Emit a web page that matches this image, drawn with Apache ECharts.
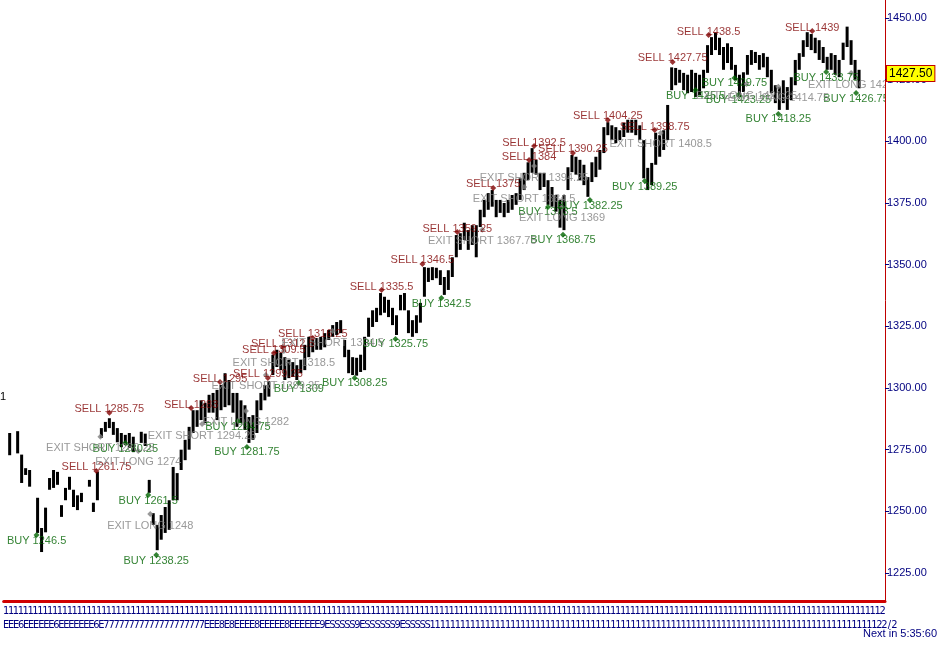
<!DOCTYPE html>
<html><head><meta charset="utf-8">
<script src="https://cdn.jsdelivr.net/npm/echarts@6/dist/echarts.min.js"></script>
<style>html,body{margin:0;padding:0;background:#fff}#c{width:945px;height:661px}</style>
</head><body><div id="c"></div>
<script>
// ---- price bars (one per slot), high / low ----
const highs = [
null,1281.75,null,1282.5,1273,1267.5,1266.75,null,1255.5,1243.25,
1251.5,1263.5,1266.75,1266,1252.5,1259.5,1264,1258.75,1256.5,1257.5,
null,1262.75,1253.5,1266,1283.75,1286.25,1287.75,1286.25,1283.75,1281.75,
1281,1281.75,1280.25,null,1282.25,1281.5,1262.75,1249.25,1244.5,1248.5,
1251.75,1254.5,1268,1265.5,1275,1279,1284.25,1291,1291,1295,
1294,1297.25,1298,1299.25,1301.25,1306,1303.25,1298,1298,1295,
1293,1288.25,1289,1295,1298,1301.25,1302.75,1313.5,1315.5,1314.25,
1312.5,1311.5,1310.5,1309.25,1311.5,1317.5,1320.75,1319.5,1320.25,1320.75,
1322.25,1323.5,1325.5,1326.75,1327.5,1319.5,1315.5,1312.5,1312.25,1313.5,
1320.75,1328.5,1331.5,1332.5,1338.5,1337,1335.75,1332.5,1329.5,1337.75,
1338.5,1331.5,1327.5,1329.5,1334.5,1349,1348.75,1349,1348.75,1347.75,
1345,1347.75,1353,1362,1362.75,1367,1364,1366,1366,1372.25,
1376.25,1379,1380.25,1376.25,1376.25,1375,1376.25,1378.25,1379,1385,
1387.25,1391.5,1397.25,1392.5,1387.25,1387.25,1384.25,1381.5,1378.25,1376.25,
1378.25,1389.5,1394.5,1393.75,1392.5,1390.5,1385.5,1391.5,1393.75,1396.5,
1405.75,1407.75,1406.5,1405.75,1404.5,1407.5,1408.75,1408.75,1408.75,1406.5,
1400.5,1389.25,1391.25,1403.5,1402.5,1404.5,1414.75,1430,1429.75,1429,
1427.75,1427,1429,1427.75,1427,1429,1439,1442.25,1444,1442,
1438.25,1439.75,1438.25,1431,1427,1428,1435,1437,1436.25,1435,
1435.75,1434.25,1429,1422.75,1422,1424.75,1422,1426,1433,1435.75,
1441,1444.25,1443.5,1442,1441,1438.25,1434.25,1435.75,1435,1433,
1440,1446.5,1441,1433,1429,null,null,null,null,null,null];
const lows = [
null,1272.75,null,1273.5,1261.5,1264.75,1260,null,1241.25,1233.5,
1241.5,1258.75,1259.5,1260.75,1247.75,1254.5,1258.75,1251.75,1250.5,1253.75,
null,1260,1249.75,1254.5,1279.75,1282.25,1283.75,1281,1278,1276,
1277,1275.75,1274,null,1277.75,1276.5,1257.5,1244.5,1234.25,1238.5,
1241.25,1242.5,1254.5,1254.5,1266.75,1270.75,1275,1281.75,1284.25,1287,
1285.75,1290,1290,1287,1291,1292.25,1293,1290,1284.25,1285.75,
1283,1277.75,1279,1281.75,1291,1295,1296.5,1305.25,1308.5,1307.25,
1303.25,1304,1304.5,1303.25,1306,1307.25,1312.5,1314.5,1315.5,1315.5,
1316.5,1319.5,1320.75,1321.5,1322.25,1312.5,1306,1305.25,1305,1306.5,
1307.25,1320.75,1324.75,1326.75,1329.5,1330.5,1328.75,1325.5,1321.5,1331.5,
1331.5,1322.25,1320.75,1322.25,1326.5,1337,1343,1343.75,1344.5,1341.75,
1337.75,1339.75,1345,1353,1356,1360,1356,1358,1353,1365.25,
1369.25,1372.25,1373.5,1369.25,1371,1369.25,1371,1372.25,1374.25,1376.25,
1380.25,1384.25,1387.25,1386.5,1380.25,1381.5,1374.25,1373.5,1371.5,1365,
1364,1380.25,1387.5,1386.5,1384.25,1382.25,1377.5,1383.5,1385.5,1388.5,
1395.25,1402.5,1400.5,1399.25,1400.5,1401.75,1403.5,1403.5,1402.5,1400.5,
1385,1380.25,1382.25,1390.5,1393.75,1396.5,1400.5,1420.75,1422.75,1423.75,
1420.75,1419.5,1420,1418,1418.75,1421.5,1427.75,1435,1437,1435,
1429,1431.75,1429,1424.75,1418,1420,1427,1431,1431.75,1429,
1430,1426,1419.5,1415.5,1412.75,1415.5,1412.75,1416.75,1422.75,1429,
1434.25,1438.25,1437,1435.75,1433,1431.75,1429,1429,1427,1426,
1433,1438.25,1431,1425,1421.5,null,null,null,null,null,null];
const lastPrice = 1427.5;

// ---- trade annotations: bar position, marker price, text ----
const sellX = [26,22.75,46.5,53.75,65.75,67.25,69.5,77,94.25,104.5,113.25,122.25,131.25,132.5,142.25,151,162.75,167.25,176.25,202.25];
const sellY = [1290,1266.4,1291.9,1302.4,1304.1,1314.2,1316.6,1320.3,1339.7,1350.3,1363.2,1381.1,1392.4,1398.1,1395.3,1408.7,1404.6,1432.2,1443.1,1444.7];
const sellText = ['SELL 1285.75','SELL 1261.75','SELL 1283','SELL 1295','SELL 1299.25','SELL 1309.5','SELL 1312.5','SELL 1316.25','SELL 1335.5','SELL 1346.5','SELL 1359.25','SELL 1375','SELL 1384','SELL 1392.5','SELL 1390.25','SELL 1404.25','SELL 1398.75','SELL 1427.75','SELL 1438.5','SELL 1439'];

const buyX = [7.75,30,35.75,37.75,58.25,60.5,73.5,87.5,97.75,109.25,136,146.5,139.75,160.25,173,182.75,183.75,193.75,205.75,213.25];
const buyY = [1240.4,1277.7,1256.6,1232.3,1286.6,1276.1,1302,1304.1,1319.9,1336.5,1373.4,1376.2,1362.1,1383.9,1420.8,1425.7,1418.8,1411.1,1428.1,1419.6];
const buyText = ['BUY 1246.5','BUY 1280.25','BUY 1261.5','BUY 1238.25','BUY 1294.75','BUY 1281.75','BUY 1309','BUY 1308.25','BUY 1325.75','BUY 1342.5','BUY 1373.5','BUY 1382.25','BUY 1368.75','BUY 1389.25','BUY 1425.5','BUY 1429.75','BUY 1423.25','BUY 1418.25','BUY 1433.75','BUY 1426.75'];

const exitX = [23.75,33.25,36.25,49.25,60.25,65.25,69.75,82,119.5,130,132.5,139.5,164.25,185.75,193.75,212];
const exitY = [1280.2,1274.5,1248.9,1285.4,1290.7,1305.3,1315,1323.1,1364.2,1381.5,1390,1373.4,1403.4,1423.2,1422.1,1427.7];
const exitText = ['EXIT SHORT 1280.25','EXIT LONG 1274','EXIT LONG 1248','EXIT SHORT 1294.25','EXIT LONG 1282','EXIT SHORT 1299.25','EXIT SHORT 1318.5','EXIT SHORT 1304.5','EXIT SHORT 1367.75','EXIT SHORT 1384.5','EXIT SHORT 1394.25','EXIT LONG 1369','EXIT SHORT 1408.5','EXIT LONG 1421.25','EXIT LONG 1414.75','EXIT LONG 1425'];

// ---- axis tick labels ----
const yTicks = [1225,1250,1275,1300,1325,1350,1375,1400,1425,1450];
const row1Labels = Array.from(
  '1111111111'+'1111111111'+'1111111111'+'1111111111'+'1111111111'+'1111111111'+
  '1111111111'+'1111111111'+'1111111111'+'1111111111'+'1111111111'+'1111111111'+
  '1111111111'+'1111111111'+'1111111111'+'1111111111'+'1111111111'+'111111111'+'2');
const row2Labels = Array.from(
  'EEE6EEEEEE6EEEEEEE6E'+'77777777777777777777'+'EEE8E8EEEE8EEEEE8EEEEEE9E'+'SSSSS9ESSSSSS9ESSSSS'+
  '1111111111'+'1111111111'+'1111111111'+'1111111111'+'1111111111'+'1111111111'+'1111111111'+'1111111111'+'111111111'+'22/2');
const footText = 'Next in 5:35:60';
const cornerText = '1';

const FONT = 'Liberation Sans';
const NARROW = '"Liberation Sans Narrow", "DejaVu Sans Condensed", "Liberation Sans"';
const chart = echarts.init(document.getElementById('c'));
const N = highs.length;
const barData = [];
for (let i = 0; i < N; i++) if (highs[i] != null) barData.push([i, lows[i], highs[i]]);
function pts(xs, ys, ts) { return xs.map((x, i) => ({ value: [x, ys[i]], name: ts[i] })); }

function renderBar(params, api) {
  const x = api.value(0), lo = api.value(1), hi = api.value(2);
  const a = api.coord([x, hi]), b = api.coord([x, lo]);
  return { type: 'rect', shape: { x: a[0] - 1.5, y: a[1], width: 3, height: Math.max(1, b[1] - a[1]) }, style: { fill: '#000' } };
}

function markerSeries(data, color, pos, dist) {
  return {
    type: 'scatter', xAxisIndex: 0, yAxisIndex: 0, data: data,
    symbol: 'diamond', symbolSize: 6, itemStyle: { color: color },
    label: { show: true, position: pos, distance: dist, formatter: '{b}', color: color, fontSize: 11, fontFamily: FONT },
    z: 3
  };
}

const option = {
  animation: false,
  backgroundColor: '#fff',
  grid: [
    { left: 0, right: 60, top: 0, bottom: 60 },
    { left: 3, right: 48, top: 0, bottom: 60 }
  ],
  xAxis: [
    { type: 'value', gridIndex: 0, min: -0.5, max: N - 0.5, position: 'bottom',
      axisLine: { show: true, onZero: false, lineStyle: { color: '#d00000', width: 3 } },
      axisTick: { show: false }, axisLabel: { show: false }, splitLine: { show: false } },
    { type: 'category', gridIndex: 0, data: row1Labels, position: 'bottom',
      axisLine: { show: false, onZero: false }, axisTick: { show: false },
      axisLabel: { interval: 0, color: '#000080', fontSize: 11, margin: 5, fontFamily: NARROW } },
    { type: 'category', gridIndex: 1, data: row2Labels, position: 'bottom',
      axisLine: { show: false, onZero: false }, axisTick: { show: false },
      axisLabel: { interval: 0, color: '#000080', fontSize: 11, margin: 19, fontFamily: NARROW } }
  ],
  yAxis: [
    { type: 'value', gridIndex: 0, position: 'right', min: 1213.65, max: 1457.3, z: 110,
      axisLine: { show: true, onZero: false, lineStyle: { color: '#c00000', width: 1 } },
      axisTick: { show: true, length: 4, customValues: yTicks, lineStyle: { color: '#000080' } },
      axisLabel: { customValues: yTicks, color: '#000080', fontSize: 11, margin: 2, fontFamily: FONT,
        formatter: v => v.toFixed(2) },
      splitLine: { show: false } },
    { type: 'value', gridIndex: 1, show: false, axisLine: { show: false, onZero: false },
      axisTick: { show: false }, axisLabel: { show: false }, splitLine: { show: false } }
  ],
  series: [
    { type: 'custom', xAxisIndex: 0, yAxisIndex: 0, data: barData, renderItem: renderBar, z: 2 },
    markerSeries(pts(sellX, sellY, sellText), '#800000', 'top', -5),
    markerSeries(pts(buyX, buyY, buyText), '#006400', 'bottom', -3),
    markerSeries(pts(exitX, exitY, exitText), '#808080', 'bottom', 3)
  ]
};
chart.setOption(option);

// last-price tag on the price axis, placed through the axis scale
const tagY = chart.convertToPixel({ yAxisIndex: 0 }, lastPrice);
const tagX = chart.convertToPixel({ xAxisIndex: 0 }, N - 0.5);
chart.setOption({
  graphic: [
    { type: 'rect', left: 886, top: 0, shape: { width: 59, height: 598 }, style: { fill: '#fff' }, z: 50 },
    { type: 'text', left: 0, top: 391, style: { text: cornerText, fill: '#000', font: '11px ' + FONT }, z: 60 },
    { type: 'text', right: 8, top: 628, style: { text: footText, fill: '#000080', font: '11px ' + FONT }, z: 60 },
    { type: 'text', x: tagX + 2, y: tagY, z: 200,
      style: { text: lastPrice.toFixed(2), fill: '#000', font: '12px ' + FONT, verticalAlign: 'middle',
        backgroundColor: '#ffff00', borderColor: '#c00000', borderWidth: 1, padding: [2, 2, 1, 2] } }
  ]
});
</script>
</body></html>
